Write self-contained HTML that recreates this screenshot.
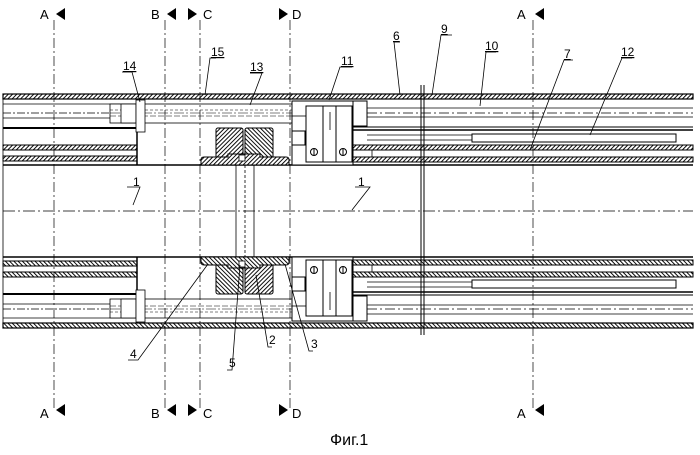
<!DOCTYPE html>
<html><head><meta charset="utf-8"><style>
html,body{margin:0;padding:0;background:#fff;}
svg{display:block;}
text{font-family:"Liberation Sans",sans-serif;fill:#000;}
</style></head><body>
<svg width="700" height="455" viewBox="0 0 700 455" xmlns="http://www.w3.org/2000/svg">
<defs>
<pattern id="h" width="3" height="3" patternUnits="userSpaceOnUse" patternTransform="rotate(45)">
<rect width="3" height="3" fill="#fff"/><line x1="0" y1="0" x2="0" y2="3" stroke="#000" stroke-width="1.9"/></pattern>
<pattern id="h2" width="3" height="3" patternUnits="userSpaceOnUse" patternTransform="rotate(-45)">
<rect width="3" height="3" fill="#fff"/><line x1="0" y1="0" x2="0" y2="3" stroke="#000" stroke-width="1.9"/></pattern>
<g id="half" stroke="#000" fill="none">
  <rect x="3" y="94" width="690" height="5" fill="url(#h)" stroke-width="1.2"/>
  <line x1="3" y1="104" x2="137" y2="104" stroke-width="0.8"/>
  <line x1="3" y1="113" x2="137" y2="113" stroke-width="0.8" stroke-dasharray="8,2,2,2"/>
  <line x1="3" y1="118" x2="137" y2="118" stroke-width="0.8"/>
  <line x1="3" y1="128" x2="137" y2="128" stroke-width="2"/>
  <rect x="3" y="145" width="134" height="5" fill="url(#h)" stroke-width="1"/>
  <rect x="3" y="156" width="134" height="5" fill="url(#h)" stroke-width="1"/>
  <line x1="3" y1="165" x2="693" y2="165" stroke-width="1.4"/>
  <line x1="137" y1="99" x2="137" y2="165" stroke-width="1.5"/>
  <rect x="110" y="104" width="182" height="19" fill="#fff" stroke-width="0.8"/>
  <line x1="110" y1="110" x2="292" y2="110" stroke-width="0.5" stroke-dasharray="3,2"/>
  <line x1="110" y1="116" x2="292" y2="116" stroke-width="0.5" stroke-dasharray="6,2"/>
  <line x1="110" y1="113" x2="292" y2="113" stroke-width="0.6" stroke-dasharray="10,2,2,2"/>
  <rect x="121" y="104" width="15" height="19" fill="#fff" stroke-width="0.8"/>
  <rect x="136" y="100" width="9" height="32" fill="#fff" stroke-width="0.8"/>
  <rect x="216" y="128" width="27" height="30" rx="2" fill="url(#h)" stroke-width="1"/>
  <rect x="245" y="128" width="28" height="30" rx="2" fill="url(#h2)" stroke-width="1"/>
  <path d="M204 157 H228 V154 H260 V157 H286 Q289 157 289 160 V165 H201 V160 Q201 157 204 157Z" fill="url(#h)" stroke-width="1"/>
  <rect x="239" y="155" width="6" height="6" fill="#fff" stroke-width="0.8"/>
  <rect x="292" y="101" width="61" height="64" fill="#fff" stroke-width="1"/>
  <rect x="292" y="131" width="13" height="14" fill="#fff" stroke-width="1"/>
  <rect x="306" y="106" width="46" height="56" fill="#fff" stroke-width="1"/>
  <line x1="323" y1="106" x2="323" y2="162" stroke-width="1"/>
  <line x1="336" y1="106" x2="336" y2="162" stroke-width="1"/>
  <line x1="292" y1="116" x2="306" y2="116" stroke-width="0.8"/>
  <circle cx="314" cy="152" r="3.5" stroke-width="1"/><line x1="314" y1="148.5" x2="314" y2="155.5" stroke-width="1"/>
  <circle cx="343" cy="152" r="3.5" stroke-width="1"/><line x1="343" y1="148.5" x2="343" y2="155.5" stroke-width="1"/>
  <line x1="330" y1="112" x2="330" y2="130" stroke-width="0.8"/>
  <rect x="353" y="101" width="14" height="25" fill="#fff" stroke-width="1"/>
  <line x1="367" y1="108" x2="693" y2="108" stroke-width="0.8"/>
  <line x1="367" y1="113" x2="693" y2="113" stroke-width="0.7" stroke-dasharray="10,3,2,3"/>
  <line x1="367" y1="117" x2="693" y2="117" stroke-width="0.8"/>
  <line x1="353" y1="127" x2="693" y2="127" stroke-width="1"/>
  <line x1="353" y1="130" x2="693" y2="130" stroke-width="1.5"/>
  <line x1="367" y1="135" x2="472" y2="135" stroke-width="0.8"/>
  <line x1="367" y1="140" x2="472" y2="140" stroke-width="0.8"/>
  <rect x="472" y="134" width="204" height="8" fill="#fff" stroke-width="1"/>
  <rect x="353" y="145" width="340" height="5" fill="url(#h)" stroke-width="1"/>
  <rect x="353" y="157" width="340" height="5" fill="url(#h)" stroke-width="1"/>
  <line x1="372" y1="150" x2="372" y2="157" stroke-width="0.8"/>
</g>
</defs>
<use href="#half"/>
<use href="#half" transform="translate(0,422) scale(1,-1)"/>
<g stroke="#000" fill="none" stroke-width="0.8">
<line x1="236" y1="165" x2="236" y2="257"/><line x1="254" y1="165" x2="254" y2="257"/>
<line x1="245" y1="165" x2="245" y2="257" stroke-dasharray="3,2"/>
</g>
<line x1="3" y1="211" x2="693" y2="211" stroke="#000" stroke-width="0.7" stroke-dasharray="12,3,2,3"/>
<line x1="3" y1="94" x2="3" y2="328" stroke="#000" stroke-width="0.8"/>
<line x1="421" y1="85" x2="421" y2="335" stroke="#000" stroke-width="1"/>
<line x1="424" y1="85" x2="424" y2="335" stroke="#000" stroke-width="1"/>
<g stroke="#000" stroke-width="0.7" stroke-dasharray="10,3,2,3">
<line x1="54" y1="20" x2="54" y2="410"/><line x1="165" y1="20" x2="165" y2="410"/>
<line x1="200" y1="20" x2="200" y2="410"/><line x1="290" y1="20" x2="290" y2="410"/>
<line x1="533" y1="20" x2="533" y2="410"/>
</g>
<g fill="#000">
<polygon points="56,14 65,8 65,20"/><polygon points="167,14 176,8 176,20"/>
<polygon points="197,14 188,8 188,20"/><polygon points="288,14 279,8 279,20"/>
<polygon points="535,14 544,8 544,20"/>
<polygon points="56,410 65,404 65,416"/><polygon points="167,410 176,404 176,416"/>
<polygon points="197,410 188,404 188,416"/><polygon points="288,410 279,404 279,416"/>
<polygon points="535,410 544,404 544,416"/>
</g>
<g font-size="13">
<text x="40" y="19">A</text><text x="151" y="19">B</text><text x="203" y="19">C</text><text x="292" y="19">D</text><text x="517" y="19">A</text>
<text x="40" y="418">A</text><text x="151" y="418">B</text><text x="203" y="418">C</text><text x="292" y="418">D</text><text x="517" y="418">A</text>
</g>
<text x="330" y="445" font-size="16">Фиг.1</text>
<g stroke="#000" stroke-width="0.8" fill="none">
<path d="M122 72 H132 L140 102"/>
<path d="M216 58 H210 L205 95"/>
<path d="M250 73 H262 L250 105"/>
<path d="M352 67 H340 L329 100"/>
<path d="M400 42 H394 L400 95"/>
<path d="M452 35 H441 L432 95"/>
<path d="M496 52 H486 L480 106"/>
<path d="M573 60 H564 L530 150"/>
<path d="M632 58 H622 L590 135"/>
<path d="M128 360 H138 L208 264"/>
<path d="M227 370 H232 L240 265"/>
<path d="M272 347 H268 L256 275"/>
<path d="M313 351 H309 L285 264"/>
<path d="M127 187 H140 L133 205"/>
<path d="M355 187 H370 L352 210"/>
</g>
<g font-size="12">
<text x="123" y="70" text-decoration="underline">14</text>
<text x="211" y="56" text-decoration="underline">15</text>
<text x="250" y="71" text-decoration="underline">13</text>
<text x="341" y="65" text-decoration="underline">11</text>
<text x="393" y="40" text-decoration="underline">6</text>
<text x="441" y="33" text-decoration="underline">9</text>
<text x="485" y="50" text-decoration="underline">10</text>
<text x="564" y="58" text-decoration="underline">7</text>
<text x="621" y="56" text-decoration="underline">12</text>
<text x="130" y="358">4</text>
<text x="229" y="367">5</text>
<text x="269" y="344">2</text>
<text x="311" y="348">3</text>
<text x="133" y="186">1</text>
<text x="358" y="186">1</text>
</g>
</svg>
</body></html>
